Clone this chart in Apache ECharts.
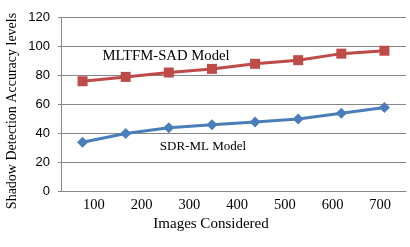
<!DOCTYPE html>
<html>
<head>
<meta charset="utf-8">
<script src="https://cdn.jsdelivr.net/npm/echarts@6/dist/echarts.min.js"></script>
<style>html,body{margin:0;padding:0;background:#fff}#c{width:410px;height:247px}</style>
</head>
<body>
<div id="c"></div>
<script>
const pointCats = ['p1','p2','p3','p4','p5','p6','p7','p8'];
const tickLabels = [100, 200, 300, 400, 500, 600, 700];
const mltfmSad = [76, 79, 82, 84.5, 88, 90.5, 95, 97];
const sdrMl = [34, 40, 44, 46, 48, 50, 54, 58];
const seriesNames = ['MLTFM-SAD Model', 'SDR-ML Model'];
const xName = 'Images Considered';
const yName = 'Shadow Detection Accuracy levels';

const SERIF = "Liberation Serif";
const SANS = "Liberation Sans";
const chart = echarts.init(document.getElementById('c'), null, {renderer: 'canvas'});
chart.setOption({
  animation: false,
  backgroundColor: '#fff',
  grid: {left: 61, right: 4, top: 17.3, bottom: 55.3},
  xAxis: [
    {
      type: 'category', data: pointCats, boundaryGap: true,
      axisLine: {show: true, lineStyle: {color: '#868686', width: 1}},
      axisTick: {show: false}, axisLabel: {show: false}, splitLine: {show: false}
    },
    {
      type: 'value', min: 31, max: 754, position: 'bottom',
      axisLine: {show: false}, axisTick: {show: false}, splitLine: {show: false},
      axisLabel: {customValues: tickLabels, color: '#000', fontFamily: SERIF, fontSize: 14.5, margin: 6}
    }
  ],
  yAxis: {
    type: 'value', min: 0, max: 120, interval: 20,
    axisLine: {show: true, lineStyle: {color: '#868686'}},
    axisTick: {show: true, length: 3, inside: false, lineStyle: {color: '#868686'}},
    splitLine: {show: true, lineStyle: {color: '#868686', width: 1}},
    axisLabel: {color: '#000', fontFamily: SANS, fontSize: 13, margin: 11}
  },
  series: [
    {
      name: seriesNames[0], type: 'line', xAxisIndex: 0, data: mltfmSad,
      symbol: 'rect', symbolSize: 10,
      lineStyle: {color: '#BE4B48', width: 3},
      itemStyle: {color: '#BE4B48'}
    },
    {
      name: seriesNames[1], type: 'line', xAxisIndex: 0, data: sdrMl,
      symbol: 'diamond', symbolSize: 11,
      lineStyle: {color: '#4A7EBB', width: 3},
      itemStyle: {color: '#4A7EBB'}
    }
  ],
  graphic: [
    {type: 'text', x: 166, y: 56, style: {text: seriesNames[0], fill: '#000', font: "14.7px 'Liberation Serif'", align: 'center', verticalAlign: 'middle'}},
    {type: 'text', x: 203, y: 147, style: {text: seriesNames[1], fill: '#000', font: "13px 'Liberation Serif'", align: 'center', verticalAlign: 'middle'}},
    {type: 'text', x: 211, y: 224, style: {text: xName, fill: '#000', font: "15px 'Liberation Serif'", align: 'center', verticalAlign: 'middle'}},
    {type: 'text', x: 12, y: 111, rotation: Math.PI / 2, style: {text: yName, fill: '#000', font: "14px 'Liberation Serif'", align: 'center', verticalAlign: 'middle'}}
  ]
});
</script>
</body>
</html>
